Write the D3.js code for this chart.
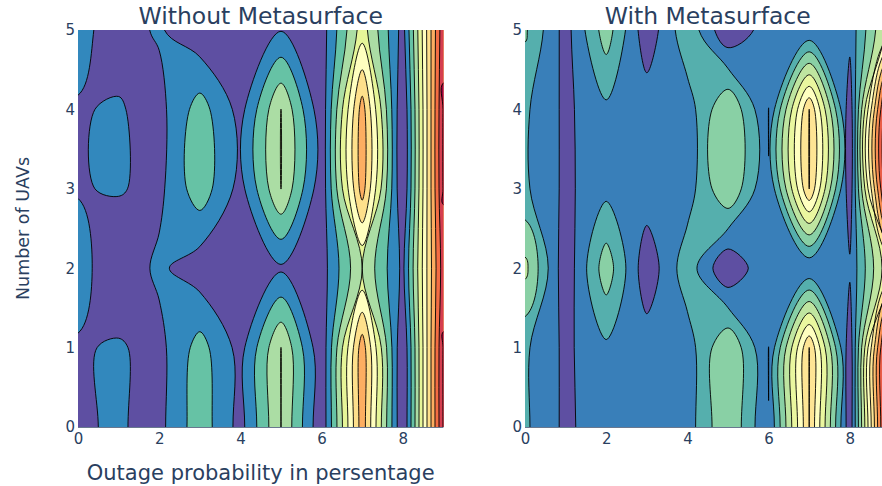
<!DOCTYPE html>
<html><head><meta charset="utf-8">
<script src="https://cdn.jsdelivr.net/npm/d3@7"></script>
<style>body{margin:0;background:#fff;overflow:hidden} svg{display:block}</style>
</head><body>
<svg id="chart" width="882" height="486"></svg>
<script>
// ---- data ----
const xValues = [0,1,2,3,4,5,6,7,8,9];
const yValues = [0,1,2,3,4,5];
const xTicks = [0,2,4,6,8];
const yTicks = [0,1,2,3,4,5];
const titles = ["Without Metasurface", "With Metasurface"];
const xTitle = "Outage probability in persentage";
const yTitle = "Number of UAVs";

// rows = yValues (y=0 first), columns = xValues
const zWithout = [
  [0.91, 1.09, 0.70, 2.60, 0.64, 4.01, 0.20, 7.60, -0.05, 10.1],
  [0.92, 1.09, 0.70, 2.40, 0.64, 4.01, 0.20, 7.60, -0.05, 10.1],
  [1.36, 0.33, 1.20, 0.40, 0.30, 0.85, 0.50, 4.00, 0.75, 9.6],
  [0.95, 1.07, 0.75, 2.60, 0.64, 4.01, 0.30, 7.50, -0.05, 10.1],
  [0.95, 1.07, 0.68, 2.45, 0.64, 4.01, 0.30, 7.50, -0.05, 10.1],
  [1.23, 0.64, 1.11, 0.26, 0.40, 0.95, 0.50, 4.50, 0.60, 9.8]
];
const zWith = [
  [2.17, 0.78, 1.66, 1.55, 1.50, 3.97, 1.005, 8.01, 0.30, 13],
  [2.17, 0.78, 1.82, 1.52, 1.50, 3.97, 0.99, 8.01, 0.30, 13],
  [4.30, 0.28, 3.60, 0.30, 2.60, 0.05, 1.95, 1.10, 1.15, 6],
  [2.17, 0.78, 1.70, 1.60, 1.50, 3.97, 1.007, 8.01, 0.30, 13],
  [2.17, 0.78, 1.79, 1.60, 1.50, 3.97, 0.99, 8.01, 0.30, 13],
  [3.15, 0.60, 3.54, 0.30, 2.73, 0.15, 1.50, 1.10, 1.36, 5.5]
];
const levelsWithout = [1,2,3,4,5,6,7,8,9,10];
const levelsWith = [1,2,3,4,5,6,7,8,9,10,11,12];

// Spectral (reversed) colour scale stops
const spectralStops = ["rgb(94,79,162)","rgb(50,136,189)","rgb(102,194,165)","rgb(171,221,164)",
  "rgb(230,245,152)","rgb(255,255,191)","rgb(254,224,139)","rgb(253,174,97)",
  "rgb(244,109,67)","rgb(213,62,79)","rgb(158,1,66)"];
const colorScale = d3.scaleLinear().domain(d3.range(11).map(i => i/10)).range(spectralStops).interpolate(d3.interpolateRgb);

const textColor = "#2a3f5f";
const fontFam = "'DejaVu Sans', verdana, sans-serif";

// marching squares with average-based saddle resolution; returns closed rings in data coords
function contourRings(grid, xs, ys, L) {
  const R = grid.length, C = grid[0].length;
  const pts = new Map();
  const hEdge = (r, c) => { const k = "h" + r + "_" + c;
    if (!pts.has(k)) { const a = grid[r][c], b = grid[r][c+1], t = (L - a) / (b - a);
      pts.set(k, [xs[c] + t * (xs[c+1] - xs[c]), ys[r]]); } return k; };
  const vEdge = (r, c) => { const k = "v" + r + "_" + c;
    if (!pts.has(k)) { const a = grid[r][c], b = grid[r+1][c], t = (L - a) / (b - a);
      pts.set(k, [xs[c], ys[r] + t * (ys[r+1] - ys[r])]); } return k; };
  const segs = [];
  for (let r = 0; r < R - 1; r++) for (let c = 0; c < C - 1; c++) {
    const v = [grid[r][c], grid[r][c+1], grid[r+1][c+1], grid[r+1][c]];
    const b = v.map(d => d >= L);
    const E = i => i === 0 ? hEdge(r, c) : i === 1 ? vEdge(r, c+1) : i === 2 ? hEdge(r+1, c) : vEdge(r, c);
    const cr = [0,1,2,3].filter(i => b[i] !== b[(i+1) % 4]);
    if (cr.length === 2) segs.push([E(cr[0]), E(cr[1])]);
    else if (cr.length === 4) {
      const centerAbove = d3.mean(v) >= L;
      for (let i = 0; i < 4; i++) if (b[i] !== centerAbove) segs.push([E((i + 3) % 4), E(i)]);
    }
  }
  const adj = new Map();
  segs.forEach((s, i) => s.forEach(k => { if (!adj.has(k)) adj.set(k, []); adj.get(k).push(i); }));
  const used = new Array(segs.length).fill(false);
  const rings = [];
  segs.forEach((s, si) => {
    if (used[si]) return;
    used[si] = true;
    const start = s[0]; let cur = s[1];
    const ring = [pts.get(start)];
    let guard = 0;
    while (cur !== start && guard++ < 100000) {
      ring.push(pts.get(cur));
      const nxt = adj.get(cur).find(j => !used[j]);
      if (nxt === undefined) break;
      used[nxt] = true;
      cur = segs[nxt][0] === cur ? segs[nxt][1] : segs[nxt][0];
    }
    if (ring.length >= 3) rings.push(ring);
  });
  return rings;
}

const svg = d3.select("#chart");
const panels = [
  {z: zWithout, levels: levelsWithout, range: [78, 443.4], title: titles[0]},
  {z: zWith, levels: levelsWith, range: [525, 890.4], title: titles[1]}
];
const yScale = d3.scaleLinear().domain([d3.min(yValues), d3.max(yValues)]).range([427, 30]);

panels.forEach((p, pi) => {
  const xScale = d3.scaleLinear().domain([d3.min(xValues), d3.max(xValues)]).range(p.range);
  const nx = xValues.length, ny = yValues.length;
  const dx = xValues[1] - xValues[0], dy = yValues[1] - yValues[0];
  // pad: one replicated layer + one very low layer so every region closes outside the plot
  const xs = [xValues[0] - 2*dx, xValues[0] - dx, ...xValues, xValues[nx-1] + dx, xValues[nx-1] + 2*dx];
  const ys = [yValues[0] - 2*dy, yValues[0] - dy, ...yValues, yValues[ny-1] + dy, yValues[ny-1] + 2*dy];
  const grid = ys.map((_, r) => xs.map((_, c) => {
    if (r === 0 || c === 0 || r === ys.length - 1 || c === xs.length - 1) return -1e6;
    const rr = Math.min(ny - 1, Math.max(0, r - 2)), cc = Math.min(nx - 1, Math.max(0, c - 2));
    return p.z[rr][cc];
  }));
  const nc = p.levels.length;
  const line = d3.line().x(d => xScale(d[0])).y(d => yScale(d[1])).curve(d3.curveCatmullRomClosed.alpha(0.5));
  const paths = p.levels.map(L => contourRings(grid, xs, ys, L).map(r => line(r)).join(""));

  const clipId = "clip" + pi;
  const [x0, x1] = p.range;
  const yTop = yScale.range()[1], yBot = yScale.range()[0];
  svg.append("clipPath").attr("id", clipId).append("rect")
    .attr("x", x0).attr("y", yTop).attr("width", x1 - x0).attr("height", yBot - yTop);
  const g = svg.append("g").attr("clip-path", `url(#${clipId})`);
  g.append("rect").attr("x", x0).attr("y", yTop).attr("width", x1 - x0)
    .attr("height", yBot - yTop).attr("fill", colorScale(0));
  g.selectAll("path.fill").data(paths).join("path").attr("class", "fill")
    .attr("d", d => d).attr("fill", (d, i) => colorScale((i + 1) / nc)).attr("fill-rule", "evenodd");
  g.selectAll("path.line").data(paths).join("path").attr("class", "line")
    .attr("d", d => d).attr("fill", "none").attr("stroke", "#000").attr("stroke-width", 0.9);

  // bottom axis line
  svg.append("line").attr("x1", x0).attr("x2", x1).attr("y1", yBot + 0.5).attr("y2", yBot + 0.5)
    .attr("stroke", textColor).attr("stroke-opacity", 0.7).attr("stroke-width", 1);

  // axes
  const ax = svg.append("g").attr("transform", `translate(0,${yBot})`)
    .call(d3.axisBottom(xScale).tickValues(xTicks).tickSize(0).tickPadding(6).tickFormat(d3.format("d")));
  ax.select(".domain").remove();
  ax.selectAll("text").attr("fill", textColor).style("font-family", fontFam).style("font-size", "15px");
  const ay = svg.append("g").attr("transform", `translate(${x0},0)`)
    .call(d3.axisLeft(yScale).tickValues(yTicks).tickSize(0).tickPadding(3).tickFormat(d3.format("d")));
  ay.select(".domain").remove();
  ay.selectAll("text").attr("fill", textColor).style("font-family", fontFam).style("font-size", "15px");

  svg.append("text").attr("x", (x0 + x1) / 2).attr("y", 24).attr("text-anchor", "middle")
    .attr("fill", textColor).style("font-family", fontFam).style("font-size", "23.5px").text(p.title);
});

svg.append("text").attr("x", 260.7).attr("y", 480).attr("text-anchor", "middle")
  .attr("fill", textColor).style("font-family", fontFam).style("font-size", "21px").text(xTitle);
svg.append("text").attr("transform", "translate(29,228.5) rotate(-90)").attr("text-anchor", "middle")
  .attr("fill", textColor).style("font-family", fontFam).style("font-size", "17.5px").text(yTitle);
</script>
</body></html>
